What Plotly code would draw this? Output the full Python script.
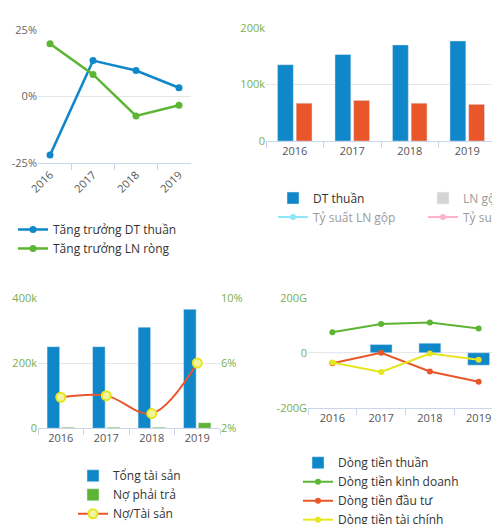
import plotly.graph_objects as go

years = ["2016", "2017", "2018", "2019"]
tt_dt = [-22, 13.5, 9.8, 3.3]
tt_ln = [19.8, 8.3, -7.3, -3.3]
dt_thuan = [135000, 153000, 170000, 177000]
ln_rong = [67000, 72000, 67000, 65000]
no_data = [None, None, None, None]
tong_ts = [250000, 250000, 310000, 365000]
no_pt = [3000, 3000, 3000, 17000]
no_ts = [3.9, 4.0, 2.9, 6.0]
dt_thuan_cf = [0, 30, 35, -45]
dt_kd = [75, 105, 110, 88]
dt_dt = [-38, 0, -68, -105]
dt_tc = [-35, -70, -3, -25]

BLUE = "#0f87c8"; ORANGE = "#e8562a"; GREEN = "#5db534"; YELLOW = "#e6e61e"
AX = "#7aae4c"; GRID = "#e6e6e6"; TXT = "#555"
F = "Open Sans"

fig = go.Figure()
fig.add_trace(go.Scatter(x=years, y=tt_dt, mode="lines+markers", name="Tăng trưởng DT thuần",
    line=dict(color=BLUE, width=2.5), marker=dict(size=7), xaxis="x", yaxis="y", legend="legend"))
fig.add_trace(go.Scatter(x=years, y=tt_ln, mode="lines+markers", name="Tăng trưởng LN ròng",
    line=dict(color=GREEN, width=2.5), marker=dict(size=7), xaxis="x", yaxis="y", legend="legend"))
fig.add_trace(go.Bar(x=years, y=dt_thuan, name="DT thuần", marker_color=BLUE, xaxis="x2", yaxis="y2", legend="legend2"))
fig.add_trace(go.Bar(x=years, y=no_data, name="LN gộp", marker_color="#aaa", visible="legendonly", xaxis="x2", yaxis="y2", legend="legend2"))
fig.add_trace(go.Bar(x=years, y=ln_rong, name="LN ròng", marker_color=ORANGE, xaxis="x2", yaxis="y2", legend="legend2"))
fig.add_trace(go.Scatter(x=years, y=no_data, name="Tỷ suất LN gộp", mode="lines+markers", visible="legendonly", xaxis="x2", yaxis="y2", legend="legend2"))
fig.add_trace(go.Scatter(x=years, y=no_data, name="Tỷ suất LN ròng", mode="lines+markers", visible="legendonly", xaxis="x2", yaxis="y2", legend="legend2"))
fig.add_trace(go.Bar(x=years, y=tong_ts, name="Tổng tài sản", marker_color=BLUE, xaxis="x3", yaxis="y3", legend="legend3", offsetgroup="a"))
fig.add_trace(go.Bar(x=years, y=no_pt, name="Nợ phải trả", marker_color=GREEN, xaxis="x3", yaxis="y3", legend="legend3", offsetgroup="b"))
fig.add_trace(go.Scatter(x=years, y=no_ts, name="Nợ/Tài sản", mode="lines+markers", line=dict(color=ORANGE, width=2, shape="spline"),
    marker=dict(size=9, color="#f4f4a0", line=dict(color=YELLOW, width=2)), xaxis="x3", yaxis="y5", legend="legend3"))
fig.add_trace(go.Bar(x=years, y=dt_thuan_cf, name="Dòng tiền thuần", marker_color=BLUE, width=0.45, xaxis="x4", yaxis="y4", legend="legend4"))
fig.add_trace(go.Scatter(x=years, y=dt_kd, mode="lines+markers", name="Dòng tiền kinh doanh", line=dict(color=GREEN, width=2), marker=dict(size=6), xaxis="x4", yaxis="y4", legend="legend4"))
fig.add_trace(go.Scatter(x=years, y=dt_dt, mode="lines+markers", name="Dòng tiền đầu tư", line=dict(color=ORANGE, width=2), marker=dict(size=6), xaxis="x4", yaxis="y4", legend="legend4"))
fig.add_trace(go.Scatter(x=years, y=dt_tc, mode="lines+markers", name="Dòng tiền tài chính", line=dict(color=YELLOW, width=2), marker=dict(size=6), xaxis="x4", yaxis="y4", legend="legend4"))

def xa(dom, anchor, angle=0):
    return dict(domain=dom, anchor=anchor, showline=True, linecolor="#ccd6eb", ticks="outside", tickcolor="#ccd6eb",
                tickson="boundaries", ticklen=6, tickangle=angle, tickfont=dict(size=11, color=TXT), showgrid=False)
def ya(dom, anchor, rng, tv, tt, col=AX, **kw):
    d = dict(domain=dom, anchor=anchor, range=rng, tickvals=tv, ticktext=tt, gridcolor=GRID, zeroline=False,
             tickfont=dict(size=11, color=col), showline=False)
    d.update(kw); return d

LF = dict(size=12, color="#333")
fig.update_layout(
    width=500, height=524, margin=dict(l=0, r=0, t=0, b=0, autoexpand=False), paper_bgcolor="white", plot_bgcolor="white",
    font=dict(family=F, color=TXT), bargap=0.35, bargroupgap=0.15, barmode="group",
    xaxis=xa([0.06, 0.366], "y", -45),
    yaxis=ya([0.704, 0.958], "x", [-25, 25], [-25, 0, 25], ["-25%", "0%", "25%"], col="#666"),
    xaxis2=xa([0.516, 0.976], "y2"),
    yaxis2=ya([0.746, 0.962], "x2", [0, 200000], [0, 100000, 200000], ["0", "100k", "200k"]),
    xaxis3=xa([0.06, 0.424], "y3"),
    yaxis3=ya([0.198, 0.447], "x3", [0, 400000], [0, 200000, 400000], ["0", "200k", "400k"]),
    yaxis5=ya([0.198, 0.447], "x3", [2, 10], [2, 6, 10], ["2%", "6%", "10%"], overlaying="y3", side="right", showgrid=False),
    xaxis4=xa([0.6, 0.99], "y4"),
    yaxis4=ya([0.237, 0.447], "x4", [-200, 200], [-200, 0, 200], ["-200G", "0", "200G"]),
    legend=dict(x=0.01, y=0.605, yanchor="top", font=LF, itemwidth=30, tracegroupgap=0, bgcolor="rgba(0,0,0,0)"),
    legend2=dict(x=0.53, y=0.665, yanchor="top", orientation="h", entrywidth=105, itemwidth=30, font=LF, bgcolor="rgba(0,0,0,0)"),
    legend3=dict(x=0.13, y=0.135, yanchor="top", font=LF, itemwidth=30, bgcolor="rgba(0,0,0,0)"),
    legend4=dict(x=0.58, y=0.16, yanchor="top", font=LF, itemwidth=30, bgcolor="rgba(0,0,0,0)"),
)
fig.write_html("out.html")
